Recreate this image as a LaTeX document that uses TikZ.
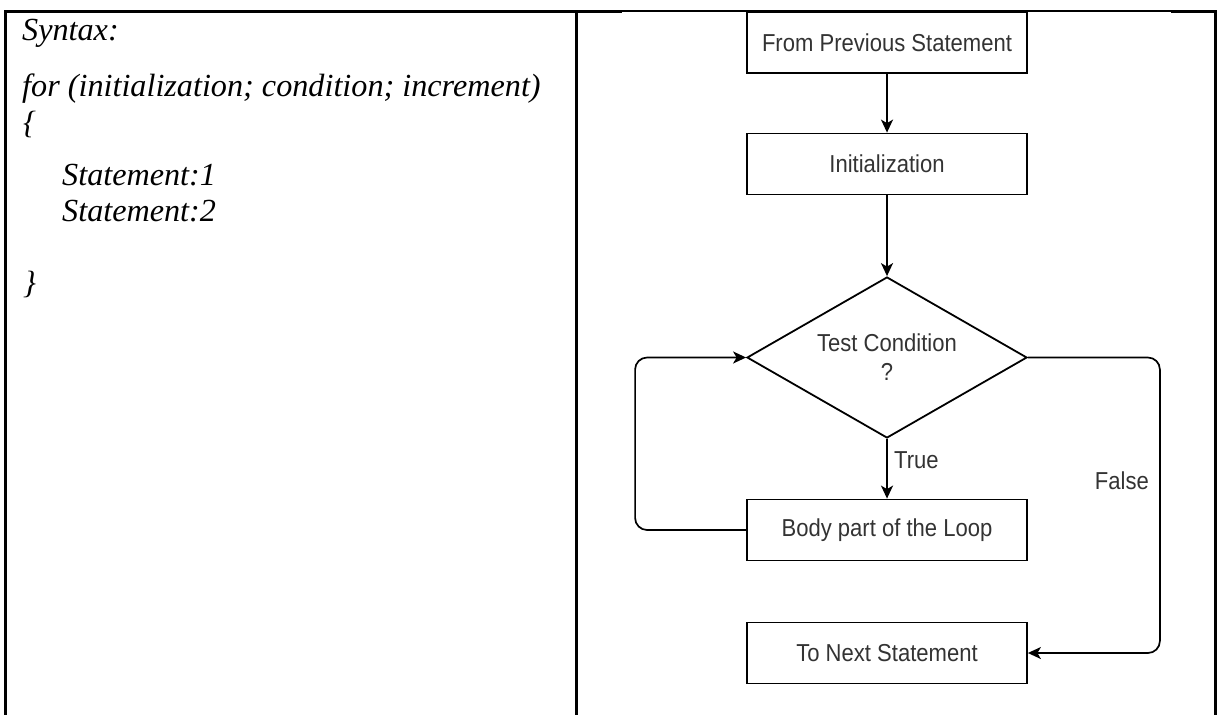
\documentclass[tikz,border=0pt]{standalone}
\usepackage{fontspec}
\setmainfont{Liberation Serif}
\newfontfamily\flowfont[FakeStretch=0.9]{Liberation Sans}
\usetikzlibrary{shapes.geometric}
\usetikzlibrary{arrows.meta}

\tikzset{
  border/.style={line width=3pt},
  codeline/.style={anchor=base west, inner sep=0pt, font=\itshape\fontsize{32.2}{37}\selectfont},
  flowbox/.style={draw, line width=1.8pt, minimum width=280pt, minimum height=61pt, inner sep=0pt,
    text=black!80, font=\flowfont\fontsize{24.5}{29}\selectfont},
  decision/.style={flowbox, diamond, aspect=1.74, minimum height=161pt, align=center},
  flowline/.style={line width=1.7pt, -{Stealth[length=13pt, width=12pt, inset=3.5pt]}},
  lbl/.style={inner sep=0pt, text=black!80, font=\flowfont\fontsize{24.5}{29}\selectfont}
}

\begin{document}
\begin{tikzpicture}[x=1pt, y=-1pt]

\useasboundingbox (0,0) rectangle (1222,715);

% Table borders
\draw[border] (4,11) -- (622,11);
\draw[line width=2pt] (622,11) -- (1171,11);
\draw[border] (1171,11) -- (1216.5,11);
\draw[border] (5,11) -- (5,715);
\draw[border] (576,11) -- (576,715);
\draw[border] (1215,11) -- (1215,715);

% Syntax of the for loop
\node[codeline] (syn) at (22,40) {Syntax:};
\node[codeline] (head) at (22,96) {for (initialization; condition; increment)};
\node[codeline] (open) at (23,133) {\{};
\node[codeline] (st1) at (62,185) {Statement:1};
\node[codeline] (st2) at (62,221) {Statement:2};
\node[codeline] (close) at (23,293) {\}};

% Flowchart of the for loop
\node[flowbox] (prev) at (887,42.5) {From Previous Statement};
\node[flowbox] (init) at (887,164) {Initialization};
\node[decision] (cond) at (887,357.5) {Test Condition\\?};
\node[flowbox] (body) at (887,530) {Body part of the Loop};
\node[flowbox] (next) at (887,653) {To Next Statement};

\draw[flowline] (prev) -- (init);
\draw[flowline] (init) -- (cond);
\draw[flowline] (cond) -- (body);
\node[lbl, anchor=west] (true) at (894,460) {True};

% Loop back and exit
\draw[flowline, rounded corners=12pt] (body.west) -- ++(-111,0) |- (cond.west);
\draw[flowline, rounded corners=12pt] (cond.east) -- ++(132,0) |- (next.east);
\node[lbl, anchor=east] (false) at (1149,481) {False};

\end{tikzpicture}
\end{document}
